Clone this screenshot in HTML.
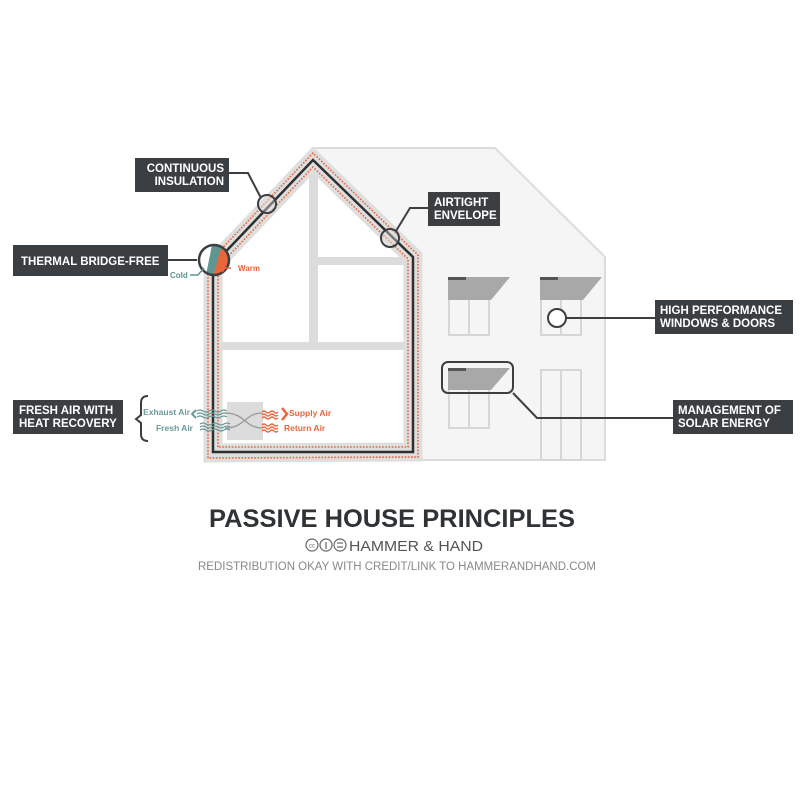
<!DOCTYPE html>
<html><head><meta charset="utf-8"><style>
html,body{margin:0;padding:0;background:#fff;}
body{width:803px;height:805px;overflow:hidden;font-family:"Liberation Sans",sans-serif;}
</style></head><body>
<svg width="803" height="805" viewBox="0 0 803 805" xmlns="http://www.w3.org/2000/svg" font-family="Liberation Sans, sans-serif">
<!-- right block -->
<polygon points="313,148 495,148 605,257 605,460 410,460 410,250" fill="#f5f5f5" stroke="#dcdcdc" stroke-width="2"/>
<!-- left interior -->
<polygon points="213,265 313,162 413,258 413,452 213,452" fill="#fff"/>
<!-- interior structure -->
<rect x="309" y="160" width="9" height="183" fill="#dcdcdc"/>
<rect x="318" y="257" width="92" height="8" fill="#dcdcdc"/>
<rect x="218" y="342" width="192" height="8" fill="#dcdcdc"/>
<!-- band -->
<path d="M213,453 L213,265 L313,160 L413,257 L413,452 Z" fill="none" stroke="#dedede" stroke-width="19" stroke-linejoin="miter"/>
<path d="M208,458 L208,263 L313,153 L418,255 L418,457 Z" fill="none" stroke="#e8663a" stroke-width="1.6" stroke-dasharray="1.6,1.6"/>
<path d="M218,447 L218,267 L313,167 L408,259 L408,447 Z" fill="none" stroke="#e8663a" stroke-width="1.6" stroke-dasharray="1.6,1.6"/>
<path d="M213,452 L213,265 L313,160 L413,257 L413,452 Z" fill="none" stroke="#2d2f31" stroke-width="2.5"/>
<!-- windows -->
<g fill="none" stroke="#d6d6d6" stroke-width="2">
<rect x="449" y="278" width="40" height="57"/><line x1="469" y1="278" x2="469" y2="335"/>
<rect x="541" y="278" width="40" height="57"/><line x1="561" y1="278" x2="561" y2="335"/>
<rect x="449" y="370" width="40" height="58"/><line x1="469" y1="370" x2="469" y2="428"/>
<rect x="541" y="370" width="40" height="90"/><line x1="561" y1="370" x2="561" y2="460"/>
</g>
<g fill="#a8a8a8">
<polygon points="448,277 510,277 491,300 448,300"/>
<polygon points="540,277 602,277 583,300 540,300"/>
<polygon points="448,368 510,368 491,390 448,390"/>
</g>
<g fill="#555"><rect x="448" y="277" width="18" height="3"/><rect x="540" y="277" width="18" height="3"/><rect x="448" y="368" width="18" height="3"/></g>
<!-- heat exchanger -->
<rect x="227" y="402" width="36" height="38" fill="#dcdcdc"/>
<g fill="none" stroke-width="1.3">
<path d="M197,411 q3,-2 6,0 t6,0 t6,0 t6,0 t6,0 M197,414 q3,-2 6,0 t6,0 t6,0 t6,0 t6,0 M197,417 q3,-2 6,0 t6,0 t6,0 t6,0 t6,0" stroke="#6a9a98"/>
<path d="M200,424 q3,-2 6,0 t6,0 t6,0 t6,0 t6,0 M200,427 q3,-2 6,0 t6,0 t6,0 t6,0 t6,0 M200,430 q3,-2 6,0 t6,0 t6,0 t6,0 t6,0" stroke="#6a9a98"/>
<path d="M262,412 q2,-2 4,0 t4,0 t4,0 t4,0 M262,415 q2,-2 4,0 t4,0 t4,0 t4,0 M262,418 q2,-2 4,0 t4,0 t4,0 t4,0" stroke="#e8663a"/>
<path d="M262,425 q2,-2 4,0 t4,0 t4,0 t4,0 M262,428 q2,-2 4,0 t4,0 t4,0 t4,0 M262,431 q2,-2 4,0 t4,0 t4,0 t4,0" stroke="#e8663a"/>
<path d="M225,413 C245,413 245,428 262,428 M225,428 C245,428 245,413 262,413" stroke="#999"/>
<path d="M196,410 l-4,4 l4,4" stroke="#6a9a98" stroke-width="2"/>
<path d="M282,408 l5,6 l-5,6" stroke="#e8663a" stroke-width="2.5"/>
</g>
<g font-size="8.5" font-weight="bold">
<text x="190" y="415" text-anchor="end" fill="#6a9a98">Exhaust Air</text>
<text x="193" y="431" text-anchor="end" fill="#6a9a98">Fresh Air</text>
<text x="289" y="416" fill="#e8663a">Supply Air</text>
<text x="284" y="431" fill="#e8663a">Return Air</text>
</g>
<path d="M148,396 q-7,0 -7,7 v12 l-5,4 l5,4 v11 q0,7 7,7" fill="none" stroke="#3c3f42" stroke-width="2"/>
<!-- connectors -->
<g fill="none" stroke="#3c3f42" stroke-width="2">
<polyline points="228,173 248,173 261,198"/>
<circle cx="267" cy="204" r="9" fill="#e4e4e4" fill-opacity="0.4"/>
<polyline points="428,208 410,208 396,231"/>
<circle cx="390" cy="238" r="9" fill="#e4e4e4" fill-opacity="0.4"/>
<line x1="168" y1="260" x2="197" y2="260"/>
<line x1="566" y1="318" x2="655" y2="318"/>
<circle cx="557" cy="318" r="9" fill="#fff"/>
<rect x="442" y="362" width="71" height="31" rx="6"/>
<polyline points="513,393 537,418 673,418"/>
</g>
<!-- thermal bridge circle -->
<clipPath id="c"><circle cx="214" cy="260" r="15"/></clipPath>
<g clip-path="url(#c)"><rect x="195" y="240" width="40" height="40" fill="#fff"/>
<polygon points="222,240 235,240 235,280 210,280" fill="#e8663a"/>
<polygon points="212,245 222,245 212,280 205,280" fill="#5f9593"/></g>
<circle cx="214" cy="260" r="15" fill="none" stroke="#3c3f42" stroke-width="2.5"/>
<polyline points="231,268 225,268 222,272" fill="none" stroke="#e8663a" stroke-width="1.5"/>
<polyline points="190,275 198,275 204,268" fill="none" stroke="#5f9593" stroke-width="1.5"/>
<text x="238" y="271" font-size="8" font-weight="bold" fill="#e8663a">Warm</text>
<text x="170" y="278" font-size="8" font-weight="bold" fill="#5f9593">Cold</text>
<!-- label boxes -->
<g fill="#3c3f42">
<rect x="135" y="158" width="94" height="34"/>
<rect x="428" y="192" width="72" height="34"/>
<rect x="13" y="245" width="155" height="31"/>
<rect x="13" y="400" width="110" height="34"/>
<rect x="655" y="300" width="138" height="34"/>
<rect x="673" y="400" width="120" height="34"/>
</g>
<g fill="#fff" font-size="11.5" font-weight="bold">
<text x="224" y="172" text-anchor="end">CONTINUOUS</text><text x="224" y="185" text-anchor="end">INSULATION</text>
<text x="434" y="206">AIRTIGHT</text><text x="434" y="219">ENVELOPE</text>
<text x="21" y="265">THERMAL BRIDGE-FREE</text>
<text x="19" y="414">FRESH AIR WITH</text><text x="19" y="427">HEAT RECOVERY</text>
<text x="660" y="314">HIGH PERFORMANCE</text><text x="660" y="327">WINDOWS &amp; DOORS</text>
<text x="678" y="414">MANAGEMENT OF</text><text x="678" y="427">SOLAR ENERGY</text>
</g>
<!-- title -->
<text x="392" y="527" text-anchor="middle" font-size="25" font-weight="bold" fill="#2f3335" textLength="366" lengthAdjust="spacingAndGlyphs">PASSIVE HOUSE PRINCIPLES</text>
<g fill="none" stroke="#666" stroke-width="1.2">
<circle cx="312" cy="545" r="6"/><circle cx="326" cy="545" r="6"/><circle cx="340" cy="545" r="6"/>
<line x1="337" y1="543" x2="343" y2="543"/><line x1="337" y1="547" x2="343" y2="547"/>
<line x1="326" y1="542" x2="326" y2="549"/>
</g>
<text x="309" y="547.5" font-size="6" fill="#666">cc</text>
<text x="349" y="551" font-size="15" fill="#555" textLength="134" lengthAdjust="spacingAndGlyphs">HAMMER &amp; HAND</text>
<text x="397" y="570" text-anchor="middle" font-size="11.5" fill="#888" textLength="398" lengthAdjust="spacingAndGlyphs">REDISTRIBUTION OKAY WITH CREDIT/LINK TO HAMMERANDHAND.COM</text>
</svg>
</body></html>
